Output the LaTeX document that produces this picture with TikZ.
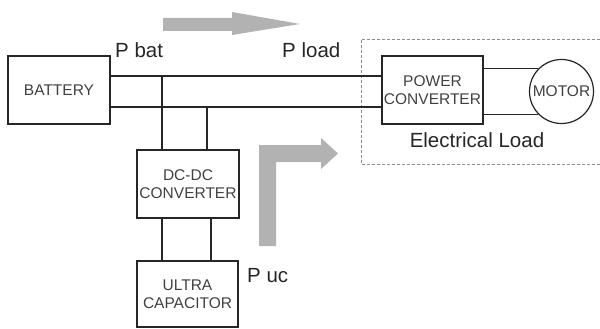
\documentclass[tikz,border=0pt]{standalone}
\usepackage{fontspec}
\setmainfont{Liberation Sans}
\begin{document}
\begin{tikzpicture}[x=1pt,y=-1pt,
  blk/.style={draw=black!85, line width=1.2pt, rectangle, inner sep=0pt, align=center,
    text=black!75, font=\fontsize{15.5}{17.5}\selectfont},
  wire/.style={draw=black!85, line width=1.2pt},
  lbl/.style={inner sep=0pt, text=black!85, font=\fontsize{20.5}{24}\selectfont},
  flow/.style={fill=black!30, draw=none}]
\useasboundingbox (0,0) rectangle (600,329);
% dashed electrical load region
\draw[black!45, line width=0.6pt, dash pattern=on 3pt off 2pt] (600,39) -- (361,39) -- (361,164) -- (600,164);
% flow arrows
\fill[flow] (163,18) -- (232,18) -- (232,12) -- (300,24) -- (232,35) -- (232,31) -- (163,31) -- cycle;
\fill[flow] (259,246) -- (259,145) -- (321,145) -- (321,138) -- (338,153.5) -- (321,169) -- (321,162) -- (276,162) -- (276,246) -- cycle;
% blocks
\node[blk, minimum width=102pt, minimum height=68pt] (bat) at (59,90) {BATTERY};
\node[blk, minimum width=101pt, minimum height=68pt] (pc) at (432.5,90) {POWER\\CONVERTER};
\node[blk, minimum width=102pt, minimum height=68pt] (dc) at (188,184) {DC-DC\\CONVERTER};
\node[blk, minimum width=101pt, minimum height=66pt] (uc) at (187.5,294) {ULTRA\\CAPACITOR};
\node[blk, circle, minimum size=64pt] (mot) at (561.5,91.5) {MOTOR};
% wires
\coordinate (j1) at (162,76);
\coordinate (j2) at (207,107);
\draw[wire] ([yshift=14pt]bat.east) -- ([yshift=14pt]pc.west);
\draw[wire] ([yshift=-17pt]bat.east) -- ([yshift=-17pt]pc.west);
\draw[wire] (j1) -- (dc.north -| j1);
\draw[wire] (j2) -- (dc.north -| j2);
\coordinate (k1) at (162,218);
\coordinate (k2) at (211,218);
\draw[wire] (k1) -- (uc.north -| k1);
\draw[wire] (k2) -- (uc.north -| k2);
\draw[wire] (pc.east |- mot.135) -- (mot.135);
\draw[wire] (pc.east |- mot.225) -- (mot.225);
% labels
\node[lbl, anchor=base west] (pbat) at (115,58) {P bat};
\node[lbl, anchor=base west] (pload) at (282,58) {P load};
\node[lbl, anchor=base west] (puc) at (247,282) {P uc};
\node[lbl, anchor=base] (el) at (477,147) {Electrical Load};
\end{tikzpicture}
\end{document}
